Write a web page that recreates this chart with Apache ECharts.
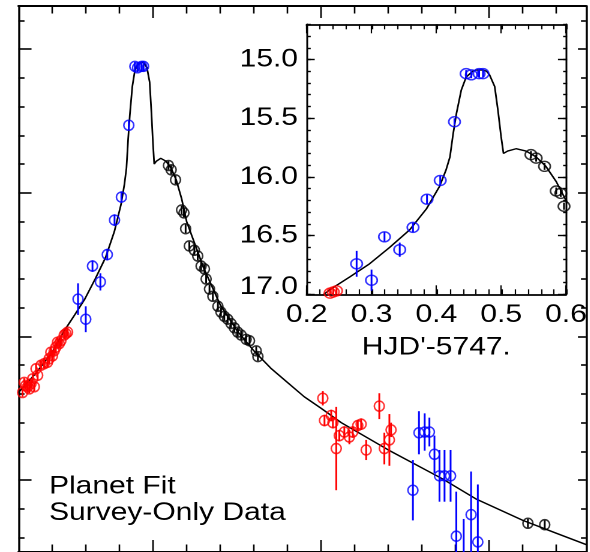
<!DOCTYPE html>
<html><head><meta charset="utf-8">
<script src="https://cdn.jsdelivr.net/npm/echarts@6/dist/echarts.min.js"></script>
<style>
html,body{margin:0;padding:0;background:#fff;overflow:hidden;width:590px;height:552px}
#chart{height:552px;transform-origin:0 0}
</style></head><body><div id="chart"></div>
<script>
// ---- data (HJD' - 5747, magnitude, error) ----
const redDay = [0.112,0.117,0.122,0.127,0.132,0.137,0.142,0.147,0.152,0.157,0.167,0.176,0.186,0.191,0.196,0.201,0.206,0.211,0.216,0.221,0.226,0.236,0.241,0.246,
  1.005,1.010,1.030,1.035,1.045,1.054,1.069,1.084,1.094,1.109,1.119,1.134,1.173,1.188,1.203,1.208];
const redMag = [17.39,17.32,17.34,17.35,17.365,17.33,17.295,17.35,17.225,17.27,17.20,17.19,17.18,17.155,17.11,17.135,17.10,17.075,17.04,17.05,17.03,16.99,16.98,16.97,
  17.43,17.585,17.55,17.60,17.78,17.69,17.665,17.70,17.665,17.62,17.61,17.79,17.485,17.78,17.72,17.65];
const redErr = [0.03,0.03,0.03,0.03,0.03,0.03,0.03,0.03,0.03,0.03,0.03,0.03,0.03,0.03,0.03,0.03,0.03,0.03,0.03,0.03,0.03,0.03,0.03,0.03,
  0.05,0.04,0.04,0.04,0.29,0.04,0.04,0.05,0.04,0.04,0.04,0.07,0.09,0.11,0.18,0.05];

const blueDay = [0.277,0.300,0.320,0.3435,0.364,0.3856,0.406,0.428,0.446,0.454,0.466,0.472,
  1.273,1.291,1.308,1.322,1.337,1.352,1.367,1.385,1.402,1.424,1.446,1.466];
const blueMag = [16.74,16.88,16.51,16.62,16.43,16.19,16.03,15.53,15.12,15.13,15.12,15.12,
  18.07,17.67,17.665,17.665,17.82,17.97,17.97,17.97,18.39,18.60,18.24,18.43];
const blueErr = [0.11,0.09,0.04,0.06,0.04,0.04,0.04,0.03,0.03,0.03,0.03,0.03,
  0.21,0.15,0.13,0.10,0.13,0.18,0.18,0.18,0.31,0.33,0.30,0.40];

const blackDay = [0.546,0.554,0.567,0.585,0.592,0.597,0.608,0.623,0.633,0.643,0.653,0.658,0.668,0.678,0.693,0.702,0.712,0.722,0.732,0.742,0.752,0.762,0.777,0.787,0.807,0.812,1.615,1.665];
const blackMag = [15.81,15.84,15.91,16.12,16.14,16.25,16.37,16.40,16.44,16.51,16.53,16.60,16.67,16.72,16.79,16.83,16.86,16.88,16.91,16.94,16.97,16.99,17.02,17.03,17.10,17.14,18.30,18.31];
const blackErr = blackDay.map(() => 0.03);

const fitDay = [0.100,0.150,0.200,0.236,0.267,0.297,0.328,0.359,0.385,0.405,0.415,0.421,0.426,0.431,0.4385,0.446,0.456,0.461,0.472,0.4775,0.482,0.490,0.495,0.500,0.5036,0.510,0.523,0.5385,0.554,0.569,0.585,0.600,0.650,0.700,0.750,0.800,0.850,0.900,0.950,1.000,1.060,1.200,1.360,1.460,1.600,1.700,1.790];
const fitMag = [17.39,17.26,17.11,16.96,16.85,16.74,16.60,16.45,16.27,16.08,15.94,15.83,15.63,15.46,15.26,15.15,15.10,15.09,15.09,15.10,15.13,15.23,15.43,15.66,15.80,15.78,15.76,15.78,15.83,15.91,16.04,16.20,16.52,16.78,16.96,17.10,17.22,17.32,17.42,17.50,17.60,17.79,17.99,18.13,18.28,18.37,18.45];

const mainXMajor = [0.5,1.0,1.5];
const mainXMinor = [0.2,0.3,0.4,0.6,0.7,0.8,0.9,1.1,1.2,1.3,1.4,1.6,1.7];
const mainYMajor = [15,16,17,18];
const mainYMinor = [14.8,15.2,15.4,15.6,15.8,16.2,16.4,16.6,16.8,17.2,17.4,17.6,17.8,18.2,18.4];
const insetXTicks = [0.2,0.3,0.4,0.5,0.6];
const insetYTicks = [15.0,15.5,16.0,16.5,17.0];
const insetXName = "HJD'-5747.";
const legendText = 'Planet Fit\nSurvey-Only Data';

// ---- layout ----
const SX = 1.2;                 // horizontal stretch of the original figure
const W = 590 / SX;
const el = document.getElementById('chart');
el.style.width = W + 'px';
el.style.transform = 'scaleX(' + SX + ')';
const FONT = "'Liberation Sans', Arial, Helvetica, sans-serif";
const FS = 25;
const TXT = '#000';
const h = v => v / SX;          // horizontal length in logical px

const mainGrid = {left: h(18.5), right: W - h(585.5), top: 6, bottom: -2};
const insetGrid = {left: h(306.7), right: W - h(566.7), top: 24.3, bottom: 552 - 294.3};

function ax(o) {
  const base = {type: 'value', splitLine: {show: false}, axisLabel: {show: false},
    axisTick: {show: false}, axisLine: {show: false}};
  return Object.assign(base, o);
}
const line = w => ({show: true, lineStyle: {color: '#000', width: w}});
const tick = (len, w, vals) => {
  const t = {show: true, inside: true, length: len, lineStyle: {color: '#000', width: w}};
  if (vals) t.customValues = vals;
  return t;
};

const MX = {min: 0.1, max: 1.7875};
const MY = {min: 14.7, max: 18.5, inverse: true};
const IX = {min: 0.2, max: 0.6};
const IY = {min: 14.7, max: 17.0, inverse: true};

const xAxis = [
  ax(Object.assign({gridIndex: 0, position: 'bottom', axisLine: line(2), axisTick: tick(12, 1.3, mainXMajor)}, MX)),
  ax(Object.assign({gridIndex: 0, position: 'top', axisLine: line(2), axisTick: tick(12, 1.3, mainXMajor)}, MX)),
  ax(Object.assign({gridIndex: 1, position: 'bottom', axisTick: tick(7.5, 1.3, mainXMinor)}, MX)),
  ax(Object.assign({gridIndex: 1, position: 'top', axisTick: tick(7.5, 1.3, mainXMinor)}, MX)),
  ax(Object.assign({gridIndex: 2, position: 'bottom', interval: 0.1, axisLine: line(1.8), axisTick: tick(9, 1.1),
    axisLabel: {show: true, showMinLabel: true, showMaxLabel: true, margin: 8.5, fontSize: FS, fontFamily: FONT, color: TXT,
      formatter: v => v.toFixed(1)},
    name: insetXName, nameLocation: 'middle', nameGap: 41,
    nameTextStyle: {fontSize: FS, fontFamily: FONT, color: TXT}}, IX)),
  ax(Object.assign({gridIndex: 2, position: 'top', interval: 0.1, axisLine: line(1.8), axisTick: tick(9, 1.1)}, IX)),
  ax(Object.assign({gridIndex: 3, position: 'bottom', interval: 0.02, axisTick: tick(5, 1.1)}, IX)),
  ax(Object.assign({gridIndex: 3, position: 'top', interval: 0.02, axisTick: tick(5, 1.1)}, IX))
];
const yAxis = [
  ax(Object.assign({gridIndex: 0, position: 'left', axisLine: line(1.7), axisTick: tick(h(13), 1.6, mainYMajor)}, MY)),
  ax(Object.assign({gridIndex: 0, position: 'right', axisLine: line(1.7), axisTick: tick(h(8), 1.6, mainYMajor)}, MY)),
  ax(Object.assign({gridIndex: 1, position: 'left', axisTick: tick(h(6), 1.6, mainYMinor)}, MY)),
  ax(Object.assign({gridIndex: 1, position: 'right', axisTick: tick(h(5), 1.6, mainYMinor)}, MY)),
  ax(Object.assign({gridIndex: 2, position: 'left', axisLine: line(1.5), axisTick: tick(h(8), 1.4, insetYTicks),
    axisLabel: {show: true, customValues: insetYTicks, margin: h(8.7), fontSize: FS, fontFamily: FONT, color: TXT,
      formatter: v => (v >= 16.99 ? '{up|' + v.toFixed(1) + '}' : v.toFixed(1)),
      rich: {up: {fontSize: FS, fontFamily: FONT, color: TXT, padding: [0, 0, 14, 0]}}}}, IY)),
  ax(Object.assign({gridIndex: 2, position: 'right', axisLine: line(1.5), axisTick: tick(h(8), 1.4, insetYTicks)}, IY)),
  ax(Object.assign({gridIndex: 3, position: 'left', interval: 0.1, axisTick: tick(h(4), 1.4)}, IY)),
  ax(Object.assign({gridIndex: 3, position: 'right', interval: 0.1, axisTick: tick(h(4), 1.4)}, IY))
];

function pts(day, mag) { return day.map((d, i) => [d, mag[i]]); }
function errSeries(day, mag, err, color, xi, yi, lw) {
  return {type: 'custom', xAxisIndex: xi, yAxisIndex: yi, clip: true, silent: true, z: 3,
    data: day.map((d, i) => [d, mag[i] - err[i], mag[i] + err[i]]),
    renderItem(params, api) {
      const a = api.coord([api.value(0), api.value(1)]);
      const b = api.coord([api.value(0), api.value(2)]);
      return {type: 'line', shape: {x1: a[0], y1: a[1], x2: b[0], y2: b[1]},
        style: {stroke: color, lineWidth: lw}};
    }};
}
function dotSeries(day, mag, color, xi, yi, size) {
  return {type: 'scatter', xAxisIndex: xi, yAxisIndex: yi, clip: true, silent: true, z: 4,
    data: pts(day, mag), symbol: 'circle', symbolSize: size,
    itemStyle: {color: 'rgba(0,0,0,0)', borderColor: color, borderWidth: 1.4}};
}
function fitSeries(xi, yi) {
  return {type: 'line', xAxisIndex: xi, yAxisIndex: yi, clip: true, silent: true, z: 2,
    data: pts(fitDay, fitMag), showSymbol: false, symbol: 'none', smooth: false,
    lineStyle: {color: '#000', width: 1.4}};
}
const groups = [
  [redDay, redMag, redErr, '#ff0000'],
  [blueDay, blueMag, blueErr, '#0000ff'],
  [blackDay, blackMag, blackErr, '#000000']
];
const series = [fitSeries(0, 0), fitSeries(4, 4)];
groups.forEach(g => {
  series.push(errSeries(g[0], g[1], g[2], g[3], 0, 0, 1.5));
  series.push(dotSeries(g[0], g[1], g[3], 0, 0, [h(10), 10]));
  series.push(errSeries(g[0], g[1], g[2], g[3], 4, 4, 1.5));
  series.push(dotSeries(g[0], g[1], g[3], 4, 4, [h(11.5), 10]));
});

const chart = echarts.init(el, null, {renderer: 'canvas', devicePixelRatio: 2});
chart.setOption({
  animation: false,
  backgroundColor: '#fff',
  title: {text: legendText, left: h(49), top: 473.5, padding: 0,
    textStyle: {fontSize: FS, lineHeight: 26.3, fontWeight: 'normal', fontFamily: FONT, color: TXT}},
  grid: [mainGrid, mainGrid, insetGrid, insetGrid],
  xAxis: xAxis,
  yAxis: yAxis,
  series: series
});
</script></body></html>
